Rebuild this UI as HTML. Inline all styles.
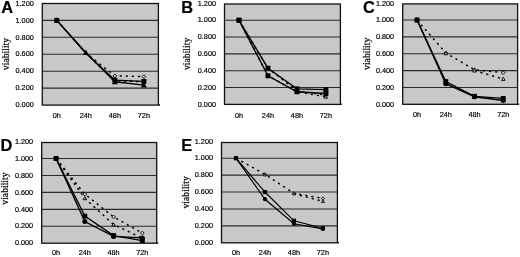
<!DOCTYPE html>
<html lang="en">
<head>
<meta charset="utf-8">
<title>Viability charts A-E</title>
<style>
html,body{margin:0;padding:0;background:#fff;}
body{width:520px;height:257px;overflow:hidden;}
svg{display:block;filter:blur(0.3px);}
text{fill:#000;stroke:#000;stroke-width:0.18px;}
.tk{font-family:"Liberation Sans","DejaVu Sans",sans-serif;font-size:7.3px;}
.vs{font-family:"Liberation Sans","DejaVu Sans",sans-serif;font-size:9px;}
.vr{font-family:"Liberation Serif","DejaVu Serif",serif;font-size:9.7px;}
.pl{font-family:"Liberation Sans","DejaVu Sans",sans-serif;font-size:16.4px;font-weight:bold;fill:#000;}
</style>
</head>
<body>
<svg width="520" height="257" viewBox="0 0 520 257">
<rect width="520" height="257" fill="#fff"/>
<g id="panelA">
<rect x="42.3" y="3.5" width="116.10000000000001" height="101.6" fill="#c8c8c8"/>
<line x1="42.3" x2="158.4" y1="88.15" y2="88.15" stroke="#2a2a2a" stroke-width="1.1"/>
<line x1="42.3" x2="158.4" y1="71.20" y2="71.20" stroke="#2a2a2a" stroke-width="1.1"/>
<line x1="42.3" x2="158.4" y1="54.25" y2="54.25" stroke="#2a2a2a" stroke-width="1.1"/>
<line x1="42.3" x2="158.4" y1="37.30" y2="37.30" stroke="#2a2a2a" stroke-width="1.1"/>
<line x1="42.3" x2="158.4" y1="20.35" y2="20.35" stroke="#2a2a2a" stroke-width="1.1"/>
<rect x="42.3" y="3.5" width="116.10000000000001" height="101.6" fill="none" stroke="#111" stroke-width="1.3"/>
<rect x="158.40" y="104.10" width="1.5" height="1.6" fill="#111"/>
<text x="33.8" y="107.30" text-anchor="end" class="tk">0.000</text>
<text x="33.8" y="90.35" text-anchor="end" class="tk">0.200</text>
<text x="33.8" y="73.40" text-anchor="end" class="tk">0.400</text>
<text x="33.8" y="56.45" text-anchor="end" class="tk">0.600</text>
<text x="33.8" y="39.50" text-anchor="end" class="tk">0.800</text>
<text x="33.8" y="22.55" text-anchor="end" class="tk">1.000</text>
<text x="33.8" y="5.65" text-anchor="end" class="tk">1.200</text>
<text x="56.81" y="118.20" text-anchor="middle" class="tk">0h</text>
<text x="85.84" y="118.20" text-anchor="middle" class="tk">24h</text>
<text x="114.86" y="118.20" text-anchor="middle" class="tk">48h</text>
<text x="143.89" y="118.20" text-anchor="middle" class="tk">72h</text>
<text transform="translate(8.80,54.00) rotate(-90)" text-anchor="middle" class="vr">viability</text>
<text x="1.3" y="12.7" class="pl">A</text>
<polyline points="56.81,20.35 85.84,52.98 114.86,75.86 143.89,76.62" fill="none" stroke="#000" stroke-width="1.45" stroke-dasharray="2.2 3.9"/>
<polyline points="85.84,53.40 114.86,80.52 143.89,81.79" fill="none" stroke="#000" stroke-width="1.45" stroke-dasharray="2.2 3.9"/>
<polyline points="56.81,20.35 85.84,53.23 114.86,80.10 143.89,81.37" fill="none" stroke="#000" stroke-width="1.35"/>
<polyline points="56.81,20.35 85.84,52.55 114.86,81.79 143.89,85.18" fill="none" stroke="#000" stroke-width="1.35"/>
<polygon points="114.86,74.01 116.71,75.86 114.86,77.71 113.01,75.86" fill="#d4d4d4" stroke="#000" stroke-width="0.9"/>
<polygon points="143.89,74.77 145.74,76.62 143.89,78.47 142.04,76.62" fill="#d4d4d4" stroke="#000" stroke-width="0.9"/>
<polygon points="114.86,78.77 116.61,81.92 113.11,81.92" fill="#d4d4d4" stroke="#000" stroke-width="0.9"/>
<polygon points="143.89,80.04 145.64,83.19 142.14,83.19" fill="#d4d4d4" stroke="#000" stroke-width="0.9"/>
<rect x="54.36" y="17.90" width="4.90" height="4.90" fill="#000"/>
<rect x="112.41" y="77.65" width="4.90" height="4.90" fill="#000"/>
<rect x="141.44" y="78.92" width="4.90" height="4.90" fill="#000"/>
<polygon points="56.81,17.35 59.81,22.75 53.81,22.75" fill="#000"/>
<polygon points="85.84,49.55 88.84,54.95 82.84,54.95" fill="#000"/>
<polygon points="114.86,78.79 117.86,84.19 111.86,84.19" fill="#000"/>
<polygon points="143.89,82.18 146.89,87.58 140.89,87.58" fill="#000"/>
</g>
<g id="panelB">
<rect x="224.5" y="4.0" width="115.89999999999998" height="100.4" fill="#c8c8c8"/>
<line x1="224.5" x2="340.4" y1="87.57" y2="87.57" stroke="#2a2a2a" stroke-width="1.1"/>
<line x1="224.5" x2="340.4" y1="70.73" y2="70.73" stroke="#2a2a2a" stroke-width="1.1"/>
<line x1="224.5" x2="340.4" y1="53.90" y2="53.90" stroke="#2a2a2a" stroke-width="1.1"/>
<line x1="224.5" x2="340.4" y1="37.07" y2="37.07" stroke="#2a2a2a" stroke-width="1.1"/>
<line x1="224.5" x2="340.4" y1="20.23" y2="20.23" stroke="#2a2a2a" stroke-width="1.1"/>
<rect x="224.5" y="4.0" width="115.89999999999998" height="100.4" fill="none" stroke="#111" stroke-width="1.3"/>
<rect x="340.40" y="103.40" width="1.5" height="1.6" fill="#111"/>
<text x="216.0" y="106.60" text-anchor="end" class="tk">0.000</text>
<text x="216.0" y="89.77" text-anchor="end" class="tk">0.200</text>
<text x="216.0" y="72.93" text-anchor="end" class="tk">0.400</text>
<text x="216.0" y="56.10" text-anchor="end" class="tk">0.600</text>
<text x="216.0" y="39.27" text-anchor="end" class="tk">0.800</text>
<text x="216.0" y="22.43" text-anchor="end" class="tk">1.000</text>
<text x="216.0" y="5.90" text-anchor="end" class="tk">1.200</text>
<text x="238.99" y="117.50" text-anchor="middle" class="tk">0h</text>
<text x="267.96" y="117.50" text-anchor="middle" class="tk">24h</text>
<text x="296.94" y="117.50" text-anchor="middle" class="tk">48h</text>
<text x="325.91" y="117.50" text-anchor="middle" class="tk">72h</text>
<text transform="translate(190.00,53.90) rotate(-90)" text-anchor="middle" class="vr">viability</text>
<text x="181.3" y="12.7" class="pl">B</text>
<polyline points="238.99,20.23 267.96,68.21 296.94,90.93 325.91,95.14" fill="none" stroke="#000" stroke-width="1.45" stroke-dasharray="2.2 3.9"/>
<polyline points="238.99,20.23 267.96,75.78 296.94,91.78 325.91,96.83" fill="none" stroke="#000" stroke-width="1.45" stroke-dasharray="2.2 3.9"/>
<polyline points="238.99,20.23 267.96,68.21 296.94,88.83 325.91,89.67" fill="none" stroke="#000" stroke-width="1.35"/>
<polyline points="238.99,20.23 267.96,75.78 296.94,91.78 325.91,93.46" fill="none" stroke="#000" stroke-width="1.35"/>
<polygon points="238.99,18.38 240.84,20.23 238.99,22.08 237.14,20.23" fill="#d4d4d4" stroke="#000" stroke-width="0.9"/>
<polygon points="267.96,66.36 269.81,68.21 267.96,70.06 266.11,68.21" fill="#d4d4d4" stroke="#000" stroke-width="0.9"/>
<polygon points="296.94,89.08 298.79,90.93 296.94,92.78 295.09,90.93" fill="#d4d4d4" stroke="#000" stroke-width="0.9"/>
<polygon points="325.91,93.29 327.76,95.14 325.91,96.99 324.06,95.14" fill="#d4d4d4" stroke="#000" stroke-width="0.9"/>
<polygon points="238.99,18.48 240.74,21.63 237.24,21.63" fill="#d4d4d4" stroke="#000" stroke-width="0.9"/>
<polygon points="267.96,74.03 269.71,77.18 266.21,77.18" fill="#d4d4d4" stroke="#000" stroke-width="0.9"/>
<polygon points="296.94,90.03 298.69,93.18 295.19,93.18" fill="#d4d4d4" stroke="#000" stroke-width="0.9"/>
<polygon points="325.91,95.08 327.66,98.23 324.16,98.23" fill="#d4d4d4" stroke="#000" stroke-width="0.9"/>
<rect x="236.54" y="17.78" width="4.90" height="4.90" fill="#000"/>
<rect x="265.51" y="65.76" width="4.90" height="4.90" fill="#000"/>
<rect x="294.49" y="86.38" width="4.90" height="4.90" fill="#000"/>
<rect x="323.46" y="87.22" width="4.90" height="4.90" fill="#000"/>
<rect x="236.54" y="17.78" width="4.90" height="4.90" fill="#000"/>
<rect x="265.51" y="73.33" width="4.90" height="4.90" fill="#000"/>
<rect x="294.49" y="89.33" width="4.90" height="4.90" fill="#000"/>
<rect x="323.46" y="91.01" width="4.90" height="4.90" fill="#000"/>
</g>
<g id="panelC">
<rect x="402.7" y="3.9" width="114.90000000000003" height="100.39999999999999" fill="#c8c8c8"/>
<line x1="402.7" x2="517.6" y1="87.45" y2="87.45" stroke="#2a2a2a" stroke-width="1.1"/>
<line x1="402.7" x2="517.6" y1="70.60" y2="70.60" stroke="#2a2a2a" stroke-width="1.1"/>
<line x1="402.7" x2="517.6" y1="53.75" y2="53.75" stroke="#2a2a2a" stroke-width="1.1"/>
<line x1="402.7" x2="517.6" y1="36.90" y2="36.90" stroke="#2a2a2a" stroke-width="1.1"/>
<line x1="402.7" x2="517.6" y1="20.05" y2="20.05" stroke="#2a2a2a" stroke-width="1.1"/>
<rect x="402.7" y="3.9" width="114.90000000000003" height="100.39999999999999" fill="none" stroke="#111" stroke-width="1.3"/>
<rect x="517.60" y="103.30" width="1.5" height="1.6" fill="#111"/>
<text x="394.2" y="106.50" text-anchor="end" class="tk">0.000</text>
<text x="394.2" y="89.65" text-anchor="end" class="tk">0.200</text>
<text x="394.2" y="72.80" text-anchor="end" class="tk">0.400</text>
<text x="394.2" y="55.95" text-anchor="end" class="tk">0.600</text>
<text x="394.2" y="39.10" text-anchor="end" class="tk">0.800</text>
<text x="394.2" y="22.25" text-anchor="end" class="tk">1.000</text>
<text x="394.2" y="5.75" text-anchor="end" class="tk">1.200</text>
<text x="417.06" y="117.40" text-anchor="middle" class="tk">0h</text>
<text x="445.79" y="117.40" text-anchor="middle" class="tk">24h</text>
<text x="474.51" y="117.40" text-anchor="middle" class="tk">48h</text>
<text x="503.24" y="117.40" text-anchor="middle" class="tk">72h</text>
<text transform="translate(370.40,53.80) rotate(-90)" text-anchor="middle" class="vr">viability</text>
<text x="363" y="12.7" class="pl">C</text>
<polyline points="417.06,20.05 445.79,52.91 474.51,69.76 503.24,72.71" fill="none" stroke="#000" stroke-width="1.45" stroke-dasharray="2.2 3.9"/>
<polyline points="474.51,70.60 503.24,79.03" fill="none" stroke="#000" stroke-width="1.45" stroke-dasharray="2.2 3.9"/>
<polyline points="417.06,20.05 445.79,83.66 474.51,96.72 503.24,100.51" fill="none" stroke="#000" stroke-width="1.35"/>
<polyline points="417.06,20.05 445.79,81.55 474.51,96.30 503.24,98.40" fill="none" stroke="#000" stroke-width="1.35"/>
<polygon points="417.06,18.20 418.91,20.05 417.06,21.90 415.21,20.05" fill="#d4d4d4" stroke="#000" stroke-width="0.9"/>
<polygon points="445.79,51.06 447.64,52.91 445.79,54.76 443.94,52.91" fill="#d4d4d4" stroke="#000" stroke-width="0.9"/>
<polygon points="474.51,67.91 476.36,69.76 474.51,71.61 472.66,69.76" fill="#d4d4d4" stroke="#000" stroke-width="0.9"/>
<polygon points="503.24,70.86 505.09,72.71 503.24,74.56 501.39,72.71" fill="#d4d4d4" stroke="#000" stroke-width="0.9"/>
<polygon points="417.06,18.30 418.81,21.45 415.31,21.45" fill="#d4d4d4" stroke="#000" stroke-width="0.9"/>
<polygon points="445.79,51.58 447.54,54.73 444.04,54.73" fill="#d4d4d4" stroke="#000" stroke-width="0.9"/>
<polygon points="474.51,68.85 476.26,72.00 472.76,72.00" fill="#d4d4d4" stroke="#000" stroke-width="0.9"/>
<polygon points="503.24,77.28 504.99,80.43 501.49,80.43" fill="#d4d4d4" stroke="#000" stroke-width="0.9"/>
<circle cx="417.06" cy="20.05" r="2.50" fill="#000"/>
<circle cx="445.79" cy="83.66" r="2.50" fill="#000"/>
<circle cx="474.51" cy="96.72" r="2.50" fill="#000"/>
<circle cx="503.24" cy="100.51" r="2.50" fill="#000"/>
<rect x="414.61" y="17.60" width="4.90" height="4.90" fill="#000"/>
<rect x="443.34" y="79.10" width="4.90" height="4.90" fill="#000"/>
<rect x="472.06" y="93.85" width="4.90" height="4.90" fill="#000"/>
<rect x="500.79" y="95.95" width="4.90" height="4.90" fill="#000"/>
</g>
<g id="panelD">
<rect x="41.7" y="142.5" width="114.99999999999999" height="100.69999999999999" fill="#c8c8c8"/>
<line x1="41.7" x2="156.7" y1="226.27" y2="226.27" stroke="#2a2a2a" stroke-width="1.1"/>
<line x1="41.7" x2="156.7" y1="209.33" y2="209.33" stroke="#2a2a2a" stroke-width="1.1"/>
<line x1="41.7" x2="156.7" y1="192.40" y2="192.40" stroke="#2a2a2a" stroke-width="1.1"/>
<line x1="41.7" x2="156.7" y1="175.47" y2="175.47" stroke="#2a2a2a" stroke-width="1.1"/>
<line x1="41.7" x2="156.7" y1="158.53" y2="158.53" stroke="#2a2a2a" stroke-width="1.1"/>
<rect x="41.7" y="142.5" width="114.99999999999999" height="100.69999999999999" fill="none" stroke="#111" stroke-width="1.3"/>
<rect x="156.70" y="242.20" width="1.5" height="1.6" fill="#111"/>
<text x="33.2" y="245.40" text-anchor="end" class="tk">0.000</text>
<text x="33.2" y="228.47" text-anchor="end" class="tk">0.200</text>
<text x="33.2" y="211.53" text-anchor="end" class="tk">0.400</text>
<text x="33.2" y="194.60" text-anchor="end" class="tk">0.600</text>
<text x="33.2" y="177.67" text-anchor="end" class="tk">0.800</text>
<text x="33.2" y="160.73" text-anchor="end" class="tk">1.000</text>
<text x="33.2" y="144.25" text-anchor="end" class="tk">1.200</text>
<text x="56.08" y="255.30" text-anchor="middle" class="tk">0h</text>
<text x="84.82" y="255.30" text-anchor="middle" class="tk">24h</text>
<text x="113.57" y="255.30" text-anchor="middle" class="tk">48h</text>
<text x="142.32" y="255.30" text-anchor="middle" class="tk">72h</text>
<text transform="translate(8.20,188.55) rotate(-90)" text-anchor="middle" class="vr">viability</text>
<text x="0.6" y="150.5" class="pl">D</text>
<polyline points="56.08,158.53 84.82,194.09 113.57,216.95 142.32,233.04" fill="none" stroke="#000" stroke-width="1.45" stroke-dasharray="2.2 3.9"/>
<polyline points="56.08,158.53 84.82,198.33 113.57,224.57 142.32,238.12" fill="none" stroke="#000" stroke-width="1.45" stroke-dasharray="2.2 3.9"/>
<polyline points="56.08,158.53 84.82,221.61 113.57,236.43 142.32,237.95" fill="none" stroke="#000" stroke-width="1.35"/>
<polyline points="56.08,158.53 84.82,216.11 113.57,235.58 142.32,240.66" fill="none" stroke="#000" stroke-width="1.35"/>
<polygon points="56.08,156.68 57.93,158.53 56.08,160.38 54.23,158.53" fill="#d4d4d4" stroke="#000" stroke-width="0.9"/>
<polygon points="84.82,192.24 86.67,194.09 84.82,195.94 82.97,194.09" fill="#d4d4d4" stroke="#000" stroke-width="0.9"/>
<polygon points="113.57,215.10 115.42,216.95 113.57,218.80 111.72,216.95" fill="#d4d4d4" stroke="#000" stroke-width="0.9"/>
<polygon points="142.32,231.19 144.17,233.04 142.32,234.89 140.47,233.04" fill="#d4d4d4" stroke="#000" stroke-width="0.9"/>
<polygon points="56.08,156.78 57.83,159.93 54.33,159.93" fill="#d4d4d4" stroke="#000" stroke-width="0.9"/>
<polygon points="84.82,196.58 86.57,199.73 83.07,199.73" fill="#d4d4d4" stroke="#000" stroke-width="0.9"/>
<polygon points="113.57,222.82 115.32,225.97 111.82,225.97" fill="#d4d4d4" stroke="#000" stroke-width="0.9"/>
<polygon points="142.32,236.37 144.07,239.52 140.57,239.52" fill="#d4d4d4" stroke="#000" stroke-width="0.9"/>
<circle cx="56.08" cy="158.53" r="2.50" fill="#000"/>
<circle cx="84.82" cy="221.61" r="2.50" fill="#000"/>
<circle cx="113.57" cy="236.43" r="2.50" fill="#000"/>
<circle cx="142.32" cy="237.95" r="2.50" fill="#000"/>
<rect x="53.62" y="156.08" width="4.90" height="4.90" fill="#000"/>
<rect x="82.37" y="213.66" width="4.90" height="4.90" fill="#000"/>
<rect x="111.12" y="233.13" width="4.90" height="4.90" fill="#000"/>
<rect x="139.88" y="238.21" width="4.90" height="4.90" fill="#000"/>
</g>
<g id="panelE">
<rect x="221.5" y="142.5" width="115.89999999999998" height="100.30000000000001" fill="#c8c8c8"/>
<line x1="221.5" x2="337.4" y1="225.88" y2="225.88" stroke="#2a2a2a" stroke-width="1.1"/>
<line x1="221.5" x2="337.4" y1="208.97" y2="208.97" stroke="#2a2a2a" stroke-width="1.1"/>
<line x1="221.5" x2="337.4" y1="192.05" y2="192.05" stroke="#2a2a2a" stroke-width="1.1"/>
<line x1="221.5" x2="337.4" y1="175.13" y2="175.13" stroke="#2a2a2a" stroke-width="1.1"/>
<line x1="221.5" x2="337.4" y1="158.22" y2="158.22" stroke="#2a2a2a" stroke-width="1.1"/>
<rect x="221.5" y="142.5" width="115.89999999999998" height="100.30000000000001" fill="none" stroke="#111" stroke-width="1.3"/>
<rect x="337.40" y="241.80" width="1.5" height="1.6" fill="#111"/>
<text x="213.0" y="245.00" text-anchor="end" class="tk">0.000</text>
<text x="213.0" y="228.08" text-anchor="end" class="tk">0.200</text>
<text x="213.0" y="211.17" text-anchor="end" class="tk">0.400</text>
<text x="213.0" y="194.25" text-anchor="end" class="tk">0.600</text>
<text x="213.0" y="177.33" text-anchor="end" class="tk">0.800</text>
<text x="213.0" y="160.42" text-anchor="end" class="tk">1.000</text>
<text x="213.0" y="144.10" text-anchor="end" class="tk">1.200</text>
<text x="235.99" y="254.90" text-anchor="middle" class="tk">0h</text>
<text x="264.96" y="254.90" text-anchor="middle" class="tk">24h</text>
<text x="293.94" y="254.90" text-anchor="middle" class="tk">48h</text>
<text x="322.91" y="254.90" text-anchor="middle" class="tk">72h</text>
<text transform="translate(188.90,192.35) rotate(-90)" text-anchor="middle" class="vr">viability</text>
<text x="181.3" y="150.5" class="pl">E</text>
<polyline points="235.99,158.22 264.96,174.29 293.94,193.32 322.91,198.39" fill="none" stroke="#000" stroke-width="1.45" stroke-dasharray="2.2 3.9"/>
<polyline points="293.94,193.74 322.91,201.35" fill="none" stroke="#000" stroke-width="1.45" stroke-dasharray="2.2 3.9"/>
<polyline points="235.99,158.22 264.96,199.24 293.94,223.77 322.91,228.84" fill="none" stroke="#000" stroke-width="1.20"/>
<polyline points="235.99,158.22 264.96,192.05 293.94,220.81 322.91,228.25" fill="none" stroke="#000" stroke-width="1.20"/>
<polygon points="235.99,156.64 237.56,158.22 235.99,159.79 234.42,158.22" fill="#d4d4d4" stroke="#000" stroke-width="0.9"/>
<polygon points="264.96,172.72 266.53,174.29 264.96,175.86 263.39,174.29" fill="#d4d4d4" stroke="#000" stroke-width="0.9"/>
<polygon points="293.94,191.75 295.51,193.32 293.94,194.89 292.37,193.32" fill="#d4d4d4" stroke="#000" stroke-width="0.9"/>
<polygon points="322.91,196.82 324.48,198.39 322.91,199.97 321.34,198.39" fill="#d4d4d4" stroke="#000" stroke-width="0.9"/>
<polygon points="235.99,156.73 237.48,159.41 234.50,159.41" fill="#d4d4d4" stroke="#000" stroke-width="0.9"/>
<polygon points="264.96,173.22 266.45,175.90 263.47,175.90" fill="#d4d4d4" stroke="#000" stroke-width="0.9"/>
<polygon points="293.94,192.25 295.43,194.93 292.45,194.93" fill="#d4d4d4" stroke="#000" stroke-width="0.9"/>
<polygon points="322.91,199.87 324.40,202.54 321.42,202.54" fill="#d4d4d4" stroke="#000" stroke-width="0.9"/>
<circle cx="235.99" cy="158.22" r="2.12" fill="#000"/>
<circle cx="264.96" cy="199.24" r="2.12" fill="#000"/>
<circle cx="293.94" cy="223.77" r="2.12" fill="#000"/>
<circle cx="322.91" cy="228.84" r="2.12" fill="#000"/>
<rect x="233.91" y="156.13" width="4.17" height="4.17" fill="#000"/>
<rect x="262.88" y="189.97" width="4.17" height="4.17" fill="#000"/>
<rect x="291.86" y="218.73" width="4.17" height="4.17" fill="#000"/>
<rect x="320.83" y="226.17" width="4.17" height="4.17" fill="#000"/>
</g>
</svg>
</body>
</html>
